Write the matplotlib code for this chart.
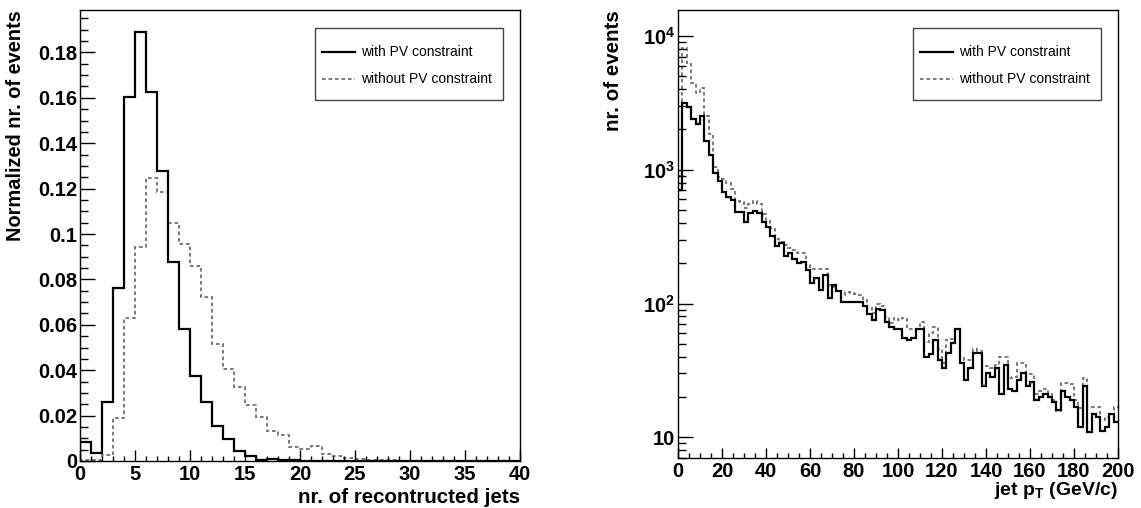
import numpy as np
import matplotlib
matplotlib.use("Agg")
import matplotlib.pyplot as plt
from matplotlib.patches import Rectangle
from matplotlib.ticker import MultipleLocator, FixedLocator, LogLocator, NullFormatter

# --- data ---
# left: normalised jet multiplicity, 40 bins of width 1
jets_edges = np.arange(0, 41)
jets_with_pv = [0.0084, 0.0034, 0.0258, 0.0763, 0.1605, 0.189, 0.1625, 0.1276, 0.0877, 0.0581,
                0.0373, 0.0262, 0.0156, 0.0096, 0.0044, 0.0022, 0.0006, 0.0009, 0.0005, 0.0003,
                0.0002, 0.0001, 0.0001, 0.0001, 0, 0, 0, 0, 0, 0,
                0, 0, 0, 0, 0, 0, 0, 0, 0, 0]
jets_without_pv = [0.0003, 0.0003, 0.0025, 0.0191, 0.0628, 0.0945, 0.1247, 0.1185, 0.1049, 0.0956,
                   0.0859, 0.0724, 0.0514, 0.0407, 0.0327, 0.0247, 0.0193, 0.0132, 0.0114, 0.0062,
                   0.0053, 0.0065, 0.0030, 0.0020, 0.0012, 0.0008, 0.0006, 0.0004, 0.0003, 0.0002,
                   0.0001, 0.0001, 0.0001, 0, 0, 0, 0, 0, 0, 0]

# right: jet pT spectrum, 100 bins of 2 GeV/c
pt_edges = np.arange(0, 202, 2)
pt_with_pv = [706, 3140, 2930, 2400, 2190, 2520, 1650, 1290, 951, 824,
              686, 629, 594, 481, 481, 409, 473, 495, 473, 409,
              372, 320, 270, 285, 227, 240, 214, 200, 206, 178,
              142, 155, 126, 164, 110, 138, 123, 103, 103, 102,
              102, 102, 95, 84, 75, 91, 90, 73, 67, 64,
              64, 55, 53, 55, 64, 64, 40, 42, 53, 38,
              33, 43, 51, 64, 36, 27, 33, 43, 43, 24,
              30, 28, 33, 21, 35, 23, 22, 27, 30, 24,
              26, 19, 20, 21, 20, 18.5, 16, 22, 20, 19,
              16.8, 12, 24, 11, 15, 14.3, 11.2, 12, 15, 13.1]
pt_without_pv = [900, 8090, 6250, 4480, 3770, 4110, 2520, 1850, 1040, 887,
                 849, 792, 715, 588, 578, 522, 553, 585, 553, 465,
                 417, 366, 303, 290, 274, 260, 252, 240, 238, 194,
                 180, 180, 180, 180, 138, 134, 125, 116, 121, 119,
                 117, 115, 109, 92, 85, 99, 95, 79, 72, 78,
                 75, 78, 65, 64, 65, 73, 52, 60, 67, 46,
                 36, 53, 54, 64, 39, 38, 38, 46, 44, 35,
                 34, 33, 35, 40, 40, 27.6, 28.4, 35.8, 36, 30,
                 29.8, 21, 22.3, 22.8, 21.6, 19, 15.6, 25.6, 25.3, 25,
                 19, 16.5, 27.6, 16.8, 16.8, 16.8, 13.5, 14.3, 15, 16.8]

legend_labels = ["with PV constraint", "without PV constraint"]
log_ticks = [10, 100, 1000, 10000]
log_tick_labels = ["10", "$10^{2}$", "$10^{3}$", "$10^{4}$"]

SOLID = dict(color="black", lw=1.6)
DASHED = dict(color="#707070", lw=1.3, linestyle=(0, (2, 1.6)))

plt.rcParams["font.family"] = ["Liberation Sans", "DejaVu Sans"]
plt.rcParams["font.weight"] = "bold"
plt.rcParams["mathtext.fontset"] = "custom"
plt.rcParams["mathtext.rm"] = "Liberation Sans:bold"
plt.rcParams["mathtext.bf"] = "Liberation Sans:bold"
plt.rcParams["mathtext.it"] = "Liberation Sans:bold"


def style_axes(ax, xmaj, ymaj):
    for s in ax.spines.values():
        s.set_linewidth(1.0)
        s.set_color("black")
    ax.tick_params(which="both", direction="in", top=False, right=False,
                   labelsize=14.5, width=1.0)
    ax.tick_params(axis="y", which="major", length=ymaj, pad=2)
    ax.tick_params(axis="y", which="minor", length=ymaj / 2)
    ax.tick_params(axis="x", which="major", length=xmaj, pad=3)
    ax.tick_params(axis="x", which="minor", length=xmaj / 2)
    for lab in ax.get_xticklabels() + ax.get_yticklabels():
        lab.set_fontweight("bold")


def draw_legend(ax):
    # ROOT style box legend, drawn in axes coordinates
    x0, x1, y0, y1 = 0.534, 0.961, 0.800, 0.960
    ax.add_patch(Rectangle((x0, y0), x1 - x0, y1 - y0, transform=ax.transAxes,
                           facecolor="white", edgecolor="#444444", lw=1.0, zorder=5))
    for yy, style, text in [(0.907, SOLID, legend_labels[0]), (0.847, DASHED, legend_labels[1])]:
        ax.plot([0.550, 0.625], [yy, yy], transform=ax.transAxes, zorder=6, **style)
        ax.text(0.639, yy, text, transform=ax.transAxes, fontsize=10, fontweight="normal",
                va="center", ha="left", zorder=6)


fig = plt.figure(figsize=(11.41, 5.08), dpi=100)

# left panel: number of reconstructed jets
ax1 = fig.add_axes([80 / 1141, 47 / 508, 440 / 1141, 451 / 508])
ax1.stairs(jets_without_pv, jets_edges, **DASHED)
ax1.stairs(jets_with_pv, jets_edges, **SOLID)
ax1.set_xlim(0, 40)
ax1.set_ylim(0, 0.1987)
ax1.xaxis.set_major_locator(MultipleLocator(5))
ax1.xaxis.set_minor_locator(MultipleLocator(1))
ax1.yaxis.set_major_locator(MultipleLocator(0.02))
ax1.yaxis.set_minor_locator(MultipleLocator(0.005))
ax1.yaxis.set_major_formatter(plt.FuncFormatter(lambda v, p: f"{v:g}"))
style_axes(ax1, 11 * 0.72, 15 * 0.72)
ax1.set_xlabel("nr. of recontructed jets", fontsize=14.8, fontweight="bold", loc="right")
ax1.xaxis.set_label_coords(1.0, -0.06)
ax1.set_ylabel("Normalized nr. of events", fontsize=14.4, fontweight="bold", loc="top")
ax1.yaxis.set_label_coords(-0.125, 1.0)
draw_legend(ax1)

# right panel: jet pT
ax2 = fig.add_axes([678 / 1141, 50 / 508, 440 / 1141, 448 / 508])
ax2.set_yscale("log")
ax2.stairs(pt_without_pv, pt_edges, baseline=None, **DASHED)
ax2.stairs(pt_with_pv, pt_edges, baseline=None, **SOLID)
ax2.set_xlim(0, 200)
ax2.set_ylim(7.0, 15640)
ax2.xaxis.set_major_locator(MultipleLocator(20))
ax2.xaxis.set_minor_locator(MultipleLocator(5))
ax2.yaxis.set_major_locator(FixedLocator(log_ticks))
ax2.yaxis.set_major_formatter(plt.FixedFormatter(log_tick_labels))
ax2.yaxis.set_minor_locator(LogLocator(base=10, subs=np.arange(2, 10)))
ax2.yaxis.set_minor_formatter(NullFormatter())
style_axes(ax2, 10 * 0.72, 15 * 0.72)
ax2.set_xlabel(r"jet p$_{\mathrm{T}}$ (GeV/c)", fontsize=14, fontweight="bold", loc="right")
ax2.xaxis.set_label_coords(1.0, -0.049)
ax2.set_ylabel("nr. of events", fontsize=14.8, fontweight="bold", loc="top")
ax2.yaxis.set_label_coords(-0.125, 1.0)
draw_legend(ax2)

fig.savefig("out.png", dpi=100)
